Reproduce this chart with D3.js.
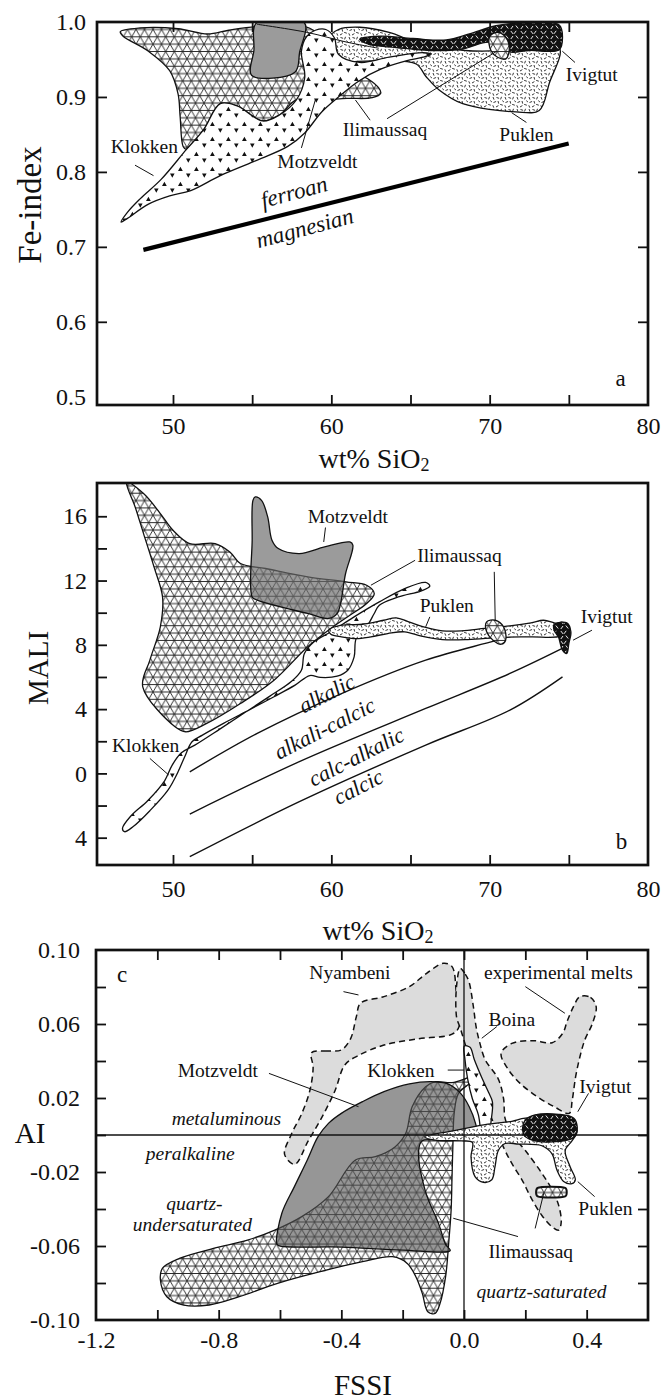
<!DOCTYPE html>
<html><head><meta charset="utf-8">
<script src="https://cdn.jsdelivr.net/npm/d3@7/dist/d3.min.js"></script>
<style>
body{margin:0;background:#fff;}
svg text{font-family:"Liberation Serif","DejaVu Serif","Times New Roman",serif;fill:#111;}
</style></head><body>
<svg id="chart" width="662" height="1400"></svg>
<script>
// ================= DATA =================
const sio2Ticks = [50, 60, 70, 80];
const sio2TickLabels = ["50", "60", "70", "80"];
const sio2MinorTicks = [50, 55, 60, 65, 70, 75];
const feTicks = [0.5, 0.6, 0.7, 0.8, 0.9, 1.0];
const feTickLabels = ["0.5", "0.6", "0.7", "0.8", "0.9", "1.0"];
const feMinorTicks = [0.6, 0.7, 0.8, 0.9];
const maliTicks = [-4, 0, 4, 8, 12, 16];
const maliTickLabels = ["4", "0", "4", "8", "12", "16"];
const maliMinorTicks = [-4, -2, 0, 2, 4, 6, 8, 10, 12, 14, 16];
const fssiTicks = [-1.2, -0.8, -0.4, 0.0, 0.4];
const fssiTickLabels = ["-1.2", "-0.8", "-0.4", "0.0", "0.4"];
const fssiMinorTicks = [-1.0, -0.8, -0.6, -0.4, -0.2, 0.0, 0.2, 0.4];
const aiTicks = [0.10, 0.06, 0.02, -0.02, -0.06, -0.10];
const aiTickLabels = ["0.10", "0.06", "0.02", "-0.02", "-0.06", "-0.10"];
const aiMinorTicks = [-0.08, -0.06, -0.04, -0.02, 0, 0.02, 0.04, 0.06, 0.08];

// ---- panel a: Fe-index vs SiO2 ----
const ilimaussaqA = [[46.67,0.987],[47.92,0.992],[50.32,0.991],[52.19,0.984],[53.52,0.989],[55.33,0.994],[58.32,0.994],[59.39,0.979],[59.92,0.948],[60.99,0.937],[62.32,0.924],[62.99,0.912],[63.12,0.905],[62.59,0.899],[60.99,0.898],[59.39,0.896],[57.79,0.896],[56.72,0.876],[55.65,0.868],[54.05,0.888],[52.99,0.891],[51.92,0.856],[50.85,0.83],[50.64,0.834],[50.45,0.874],[50.32,0.904],[49.79,0.935],[48.45,0.961],[46.85,0.981]];
const motzveldtA = [[55.28,0.999],[58.3,0.999],[58.0,0.96],[57.7,0.933],[54.96,0.929],[55.11,0.962]];
const motzveldtEdgeA = [[55.3,0.997],[58.5,0.986],[61.0,0.973],[63.0,0.965]];
const puklenA = [[59.39,0.948],[59.65,0.975],[60.45,0.99],[61.79,0.993],[63.65,0.986],[65.5,0.972],[68.45,0.962],[71.12,0.962],[74.39,0.966],[73.76,0.918],[73.13,0.882],[71.66,0.88],[68.3,0.891],[66.83,0.909],[65.99,0.927],[65.36,0.944],[63.12,0.948],[60.99,0.946],[59.92,0.939]];
const klokkenA = [[46.72,0.733],[47.12,0.738],[48.45,0.757],[49.79,0.768],[51.12,0.775],[52.99,0.795],[55.12,0.814],[57.25,0.834],[58.32,0.852],[59.39,0.88],[60.45,0.9],[61.79,0.922],[63.12,0.937],[64.72,0.948],[65.79,0.953],[66.3,0.957],[65.79,0.959],[63.65,0.953],[61.79,0.946],[60.45,0.957],[60.19,0.979],[59.65,0.99],[58.99,0.989],[58.45,0.981],[58.11,0.961],[58.32,0.926],[57.79,0.896],[56.72,0.876],[55.65,0.868],[54.05,0.888],[52.99,0.891],[51.92,0.856],[50.85,0.83],[49.25,0.79],[47.92,0.764],[47.12,0.746]];
const ivigtutA = [[61.79,0.977],[63.05,0.981],[65.15,0.978],[67.25,0.976],[68.72,0.984],[70.4,0.995],[72.5,0.999],[74.39,0.996],[74.6,0.98],[74.39,0.963],[72.5,0.962],[71.24,0.96],[70.0,0.973],[68.3,0.964],[66.2,0.962],[64.1,0.966],[62.4,0.97]];
const ilimBlobA = [[69.98,0.9795],[70.4,0.986],[70.92,0.982],[71.24,0.966],[71.03,0.951],[70.5,0.953],[70.08,0.962]];
const ferroanBoundaryA = [[48.13,0.696],[74.99,0.838]];
const fieldLabelsA = [
  {text:"Klokken", x:48.19, y:0.834}, {text:"Motzveldt", x:59.12, y:0.814},
  {text:"Ilimaussaq", x:63.39, y:0.856}, {text:"Puklen", x:72.32, y:0.85},
  {text:"Ivigtut", x:76.45, y:0.93}];
const regionLabelsA = [{text:"ferroan", x:57.65, y:0.773}, {text:"magnesian", x:58.32, y:0.725}];
const leadersA = [
  [[47.6,0.809],[48.77,0.795]], [[58.11,0.832],[58.99,0.896]],
  [[62.45,0.869],[61.52,0.896]], [[63.52,0.871],[70.45,0.961]],
  [[72.32,0.866],[71.39,0.879]], [[75.39,0.946],[74.59,0.961]]];
const panelLetterA = {text:"a", x:78.27, y:0.525};

// ---- panel b: MALI vs SiO2 ----
const ilimaussaqB = [[47.07,18.13],[48.14,17.41],[49.2,16.17],[50.0,15.13],[51.06,14.3],[52.66,14.3],[53.59,13.78],[54.26,13.06],[55.85,12.75],[58.51,12.23],[60.9,11.92],[62.23,11.71],[62.71,11.19],[62.23,10.57],[61.17,9.84],[60.11,9.12],[58.51,7.88],[56.38,5.8],[54.26,4.35],[52.13,3.11],[50.8,2.59],[50.13,2.9],[48.09,5.39],[48.54,7.05],[49.2,9.12],[49.34,10.98],[48.8,12.85],[48.14,14.92],[47.61,16.58]];
const motzveldtB = [[55.19,17.2],[55.59,16.99],[55.98,15.96],[56.25,14.51],[56.65,13.99],[57.98,13.68],[59.57,14.09],[61.17,14.4],[61.36,14.2],[60.9,12.44],[60.37,9.95],[59.84,9.64],[58.51,9.95],[55.32,10.78],[55.0,10.98],[55.0,14.51],[55.05,16.99]];
const klokkenB = [[46.81,-3.42],[47.34,-2.65],[48.4,-1.7],[49.47,-0.46],[49.95,0.52],[50.53,1.28],[51.38,1.76],[52.93,2.74],[54.52,3.77],[56.12,4.81],[57.45,5.7],[58.11,6.42],[58.3,7.46],[58.91,8.19],[59.97,8.81],[61.44,9.74],[63.03,10.67],[64.63,11.5],[65.96,11.88],[66.22,11.65],[65.69,11.36],[64.23,10.98],[63.03,10.47],[62.71,9.95],[62.23,9.12],[61.57,8.39],[61.44,7.25],[61.04,6.42],[60.37,6.05],[59.31,5.97],[58.64,6.09],[57.71,5.49],[56.38,4.77],[54.79,3.94],[53.19,3.11],[51.86,2.38],[51.2,1.97],[50.74,1.04],[50.32,0.1],[49.68,-1.04],[48.54,-2.32],[47.47,-3.32],[46.94,-3.63]];
const puklenB = [[59.84,8.91],[60.64,9.22],[61.97,9.28],[63.3,9.53],[64.1,9.68],[64.89,9.43],[65.96,9.08],[67.02,8.87],[68.22,8.87],[69.68,9.02],[71.28,9.18],[72.61,9.37],[73.4,9.53],[74.07,9.37],[74.6,9.22],[74.87,8.91],[74.47,8.54],[72.61,8.5],[70.74,8.46],[68.62,8.33],[67.02,8.33],[65.69,8.54],[64.63,8.81],[63.56,8.7],[62.5,8.5],[61.57,8.39],[60.64,8.5],[59.97,8.66]];
const ilimBlobB = [[69.81,9.43],[70.35,9.53],[70.88,9.12],[71.01,8.29],[70.74,8.04],[70.21,8.29],[69.81,8.81]];
const ivigtutB = [[74.07,9.27],[74.87,9.37],[75.13,8.81],[75.0,8.08],[74.87,7.46],[74.6,7.67],[74.34,8.5],[74.07,8.91]];
const maliBoundariesB = [
  [[51.06,0.1],[55.32,2.49],[60.64,4.97],[65.96,7.05],[70.48,8.29],[74.6,9.43]],
  [[51.06,-2.53],[57.98,0.73],[65.96,4.04],[71.28,6.22],[75.0,7.98]],
  [[51.06,-5.18],[57.98,-1.76],[65.96,1.76],[71.28,3.94],[74.6,6.01]]];
const fieldLabelsB = [
  {text:"Motzveldt", x:61.04, y:15.96}, {text:"Ilimaussaq", x:68.09, y:13.58},
  {text:"Puklen", x:67.29, y:10.42}, {text:"Ivigtut", x:77.39, y:9.74},
  {text:"Klokken", x:48.27, y:1.76}];
const regionLabelsB = [
  {text:"alkalic", x:59.71, y:4.97}, {text:"alkali-calcic", x:59.57, y:2.8},
  {text:"calc-alkalic", x:61.57, y:1.04}, {text:"calcic", x:61.7, y:-0.83}];
const leadersB = [
  [[59.63,15.3],[59.52,14.4]], [[65.29,13.26],[62.5,11.71]],
  [[66.22,9.74],[65.96,9.12]], [[70.29,12.54],[70.35,9.53]],
  [[76.46,8.91],[75.27,8.29]], [[48.54,0.93],[49.73,-0.1]]];
const panelLetterB = {text:"b", x:78.32, y:-4.25};

// ---- panel c: AI vs FSSI ----
const nyambeniC = [[-0.497,0.0445],[-0.453,0.0454],[-0.40,0.046],[-0.37,0.052],[-0.351,0.064],[-0.3375,0.0712],[-0.261,0.0748],[-0.178,0.0802],[-0.122,0.0874],[-0.067,0.0928],[-0.039,0.091],[-0.025,0.0766],[-0.016,0.0586],[-0.039,0.0545],[-0.15,0.052],[-0.261,0.0486],[-0.344,0.043],[-0.388,0.038],[-0.421,0.0238],[-0.464,0.0094],[-0.508,-0.0032],[-0.552,-0.0159],[-0.585,-0.0105],[-0.563,0.0004],[-0.53,0.0112],[-0.503,0.0238],[-0.492,0.0364]];
const boinaC = [[-0.012,0.09],[0.004,0.087],[0.016,0.083],[0.03,0.07],[0.04,0.058],[0.052,0.0495],[0.069,0.0407],[0.112,0.0302],[0.129,0.0196],[0.134,0.009],[0.156,0.0004],[0.2,-0.0084],[0.254,-0.0207],[0.287,-0.0295],[0.309,-0.0382],[0.317,-0.047],[0.309,-0.0514],[0.287,-0.0496],[0.254,-0.0435],[0.221,-0.0347],[0.189,-0.0242],[0.156,-0.0154],[0.129,-0.0067],[0.09,0.0091],[0.058,0.0232],[0.027,0.0363],[0.003,0.0495],[-0.013,0.0582],[-0.024,0.0635],[-0.024,0.081]];
const experimentalMeltsC = [[0.378,0.0748],[0.4125,0.0744],[0.431,0.0694],[0.419,0.0604],[0.394,0.0514],[0.378,0.0423],[0.364,0.0315],[0.353,0.0189],[0.343,0.0117],[0.294,0.0153],[0.239,0.0207],[0.183,0.0279],[0.142,0.036],[0.121,0.0441],[0.156,0.0495],[0.225,0.051],[0.2875,0.0499],[0.322,0.055],[0.336,0.0613],[0.357,0.0694]];
const ilimaussaqC = [[-0.99,-0.0784],[-0.983,-0.072],[-0.928,-0.0667],[-0.817,-0.0613],[-0.706,-0.0568],[-0.617,-0.0514],[-0.529,-0.0441],[-0.442,-0.0333],[-0.354,-0.0135],[-0.289,-0.0117],[-0.224,-0.0063],[-0.19,0.0009],[-0.169,0.0153],[-0.125,0.0261],[-0.093,0.0288],[-0.039,0.0283],[0.031,0.0315],[0.024,0.0288],[-0.018,0.0225],[-0.032,0.0117],[-0.036,-0.0045],[-0.039,-0.0225],[-0.042,-0.0405],[-0.05,-0.0586],[-0.06,-0.0766],[-0.078,-0.091],[-0.094,-0.0964],[-0.118,-0.0955],[-0.136,-0.0856],[-0.157,-0.0766],[-0.185,-0.0694],[-0.233,-0.0658],[-0.331,-0.0685],[-0.469,-0.0739],[-0.608,-0.0802],[-0.733,-0.0874],[-0.831,-0.0919],[-0.914,-0.0919],[-0.969,-0.0874]];
const motzveldtC = [[-0.611,-0.0586],[-0.594,-0.0423],[-0.553,-0.0279],[-0.511,-0.0135],[-0.476,-0.0009],[-0.442,0.0063],[-0.4,0.0117],[-0.331,0.018],[-0.261,0.0234],[-0.178,0.0276],[-0.108,0.0288],[-0.053,0.0276],[-0.011,0.0225],[0.017,0.0153],[0.0375,0.0063],[0.042,0.0009],[0.017,-0.002],[-0.06,-0.003],[-0.137,-0.0032],[-0.148,-0.0086],[-0.126,-0.0303],[-0.082,-0.0483],[-0.06,-0.0591],[-0.045,-0.0625],[-0.2,-0.0622],[-0.4,-0.0606],[-0.605,-0.0598]];
const klokkenC = [[0.001,0.0481],[0.0196,0.0474],[0.0338,0.0407],[0.0578,0.0311],[0.0796,0.0232],[0.0927,0.0179],[0.0883,0.0074],[0.0774,-0.004],[0.0632,-0.0058],[0.0556,0.0004],[0.0469,0.0109],[0.0273,0.0196],[0.012,0.0302],[0.0033,0.0407]];
const puklenC = [[-0.128,-0.001],[-0.04,0.0021],[0.069,0.0056],[0.156,0.0074],[0.2,0.0091],[0.352,0.0082],[0.369,0.0021],[0.352,-0.0032],[0.33,-0.0084],[0.346,-0.0172],[0.363,-0.0242],[0.352,-0.0263],[0.325,-0.0251],[0.303,-0.0189],[0.287,-0.0102],[0.254,-0.0058],[0.178,-0.0049],[0.134,-0.0046],[0.112,-0.0084],[0.101,-0.0172],[0.0905,-0.0242],[0.0632,-0.0256],[0.036,-0.0225],[0.0229,-0.0119],[0.0273,-0.004],[-0.0076,-0.0032],[-0.095,-0.0028]];
const ivigtutC = [[0.2,0.0082],[0.232,0.0109],[0.309,0.0112],[0.358,0.0091],[0.369,0.0039],[0.358,-0.0014],[0.309,-0.0035],[0.232,-0.0032],[0.198,-0.0005],[0.191,0.0039]];
const ilimCapsuleC = [[0.24,-0.0286],[0.33,-0.0286],[0.334,-0.0295],[0.335,-0.031],[0.334,-0.0323],[0.33,-0.0332],[0.24,-0.0332],[0.236,-0.0323],[0.235,-0.031],[0.236,-0.0296]];
const fieldLabelsC = [
  {text:"Nyambeni", x:-0.372, y:0.0879}, {text:"experimental melts", x:0.308, y:0.0879},
  {text:"Boina", x:0.156, y:0.0622}, {text:"Klokken", x:-0.206, y:0.0351},
  {text:"Motzveldt", x:-0.803, y:0.0351}, {text:"Ivigtut", x:0.461, y:0.0261},
  {text:"Puklen", x:0.461, y:-0.0396}, {text:"Ilimaussaq", x:0.218, y:-0.063}];
const regionLabelsC = [
  {text:"metaluminous", x:-0.775, y:0.009}, {text:"peralkaline", x:-0.893, y:-0.0099},
  {text:"quartz-", x:-0.879, y:-0.0369}, {text:"undersaturated", x:-0.886, y:-0.0486},
  {text:"quartz-saturated", x:0.253, y:-0.0847}];
const leadersC = [
  [[-0.393,0.0775],[-0.344,0.0757]], [[0.2,0.0802],[0.329,0.0658]],
  [[0.107,0.0586],[0.058,0.0523]], [[-0.053,0.0351],[0.0,0.0351]],
  [[-0.636,0.0333],[-0.344,0.0153]], [[0.406,0.0225],[0.371,0.0126]],
  [[0.371,-0.0252],[0.426,-0.0333]], [[0.232,-0.0505],[0.26,-0.0315]],
  [[0.176,-0.0549],[-0.035,-0.045]]];
const panelLetterC = {text:"c", x:-1.115, y:0.0865};

// ================= RENDER =================
const SERIF = '"Liberation Serif", "DejaVu Serif", "Times New Roman", serif';
const svg = d3.select("#chart");
const defs = svg.append("defs");

(function(){ // triangular mesh (Ilimaussaq)
  const s = 8.5, h = s * Math.sqrt(3);
  const p = defs.append("pattern").attr("id","mesh").attr("patternUnits","userSpaceOnUse").attr("width",s).attr("height",h);
  p.append("rect").attr("width",s).attr("height",h).attr("fill","#fff");
  p.append("path").attr("d",`M-1,0H${s+1}M-1,${h/2}H${s+1}M-1,${h}H${s+1}M0,0L${s},${h}M${s},0L0,${h}`)
    .attr("stroke","#1a1a1a").attr("stroke-width",0.9).attr("fill","none");
})();
(function(){ // triangles (Klokken)
  const p = defs.append("pattern").attr("id","tri").attr("patternUnits","userSpaceOnUse").attr("width",16).attr("height",15);
  p.append("rect").attr("width",16).attr("height",15).attr("fill","#fff");
  p.append("path").attr("d","M2,6 l2.4,-4.2 l2.4,4.2z M10,8.5 l4.6,0 l-2.3,4.2z").attr("fill","#111");
})();
(function(){ // dashes (Puklen)
  const p = defs.append("pattern").attr("id","dash").attr("patternUnits","userSpaceOnUse").attr("width",12).attr("height",12);
  p.append("rect").attr("width",12).attr("height",12).attr("fill","#fff");
  p.append("path").attr("d","M1,1l1,2.6 M4.5,1.5l2.6,0.8 M9.5,0.8l-0.9,2.6 M10.5,4.5l1.4,1.8 M1.5,6.5l2.6,-1 M6,5l0.7,2.6 M8.2,8.4l2.6,0.8 M0.8,9.3l1,2.4 M4,11l2.4,-1.4")
    .attr("stroke","#111").attr("stroke-width",0.85).attr("fill","none");
})();
(function(){ // inverse dashes (Ivigtut)
  const p = defs.append("pattern").attr("id","ivig").attr("patternUnits","userSpaceOnUse").attr("width",10).attr("height",10);
  p.append("rect").attr("width",10).attr("height",10).attr("fill","#111");
  p.append("path").attr("d","M0.8,1 l2.4,3 M6.2,0.8 l-2.2,3 M5.8,5.5 l2.4,3 M3,6 l-2.2,3")
    .attr("stroke","#fff").attr("stroke-width",0.9).attr("fill","none");
})();

const closedLine = (x,y) => d3.line().x(d=>x(d[0])).y(d=>y(d[1])).curve(d3.curveCatmullRomClosed.alpha(0.5));
const openLine = (x,y) => d3.line().x(d=>x(d[0])).y(d=>y(d[1])).curve(d3.curveCatmullRom.alpha(0.5));
const straight = (x,y) => d3.line().x(d=>x(d[0])).y(d=>y(d[1]));

function field(g, x, y, pts, fill, opts={}) {
  return g.append("path").datum(pts).attr("d", closedLine(x,y))
    .attr("fill", fill).attr("fill-opacity", opts.opacity ?? 1)
    .attr("stroke", opts.stroke ?? "#111").attr("stroke-width", opts.sw ?? 1.3)
    .attr("stroke-dasharray", opts.dash ?? null).attr("stroke-linejoin","round");
}
function leaders(g, x, y, list) {
  g.selectAll(null).data(list).join("path").attr("d", straight(x,y))
    .attr("stroke","#111").attr("stroke-width",1).attr("fill","none");
}
function labels(g, x, y, list, size, italic, angle) {
  g.selectAll(null).data(list).join("text")
    .attr("transform", d => `translate(${x(d.x)},${y(d.y)}) rotate(${angle||0})`)
    .attr("text-anchor","middle").attr("dominant-baseline","central")
    .attr("font-family", SERIF)
    .style("font-size", size + "px").style("font-style", italic ? "italic" : "normal")
    .text(d => d.text);
}
function axes(g, x, y, cfg) {
  const [x0,x1] = x.range(), [y0,y1] = y.range();
  const styleTicks = sel => {
    sel.attr("font-family", SERIF);
    sel.select(".domain").remove();
    sel.selectAll("line").attr("stroke","#111").attr("stroke-width",1.8);
    sel.selectAll("text").attr("font-family", SERIF).style("font-family", SERIF).style("font-size","24px").attr("fill","#111");
  };
  if (cfg.bottomMinor) g.append("g").attr("transform",`translate(0,${y0})`).call(d3.axisBottom(x).tickValues(cfg.bottomMinor).tickSizeInner(-10).tickSizeOuter(0).tickFormat("")).call(styleTicks);
  if (cfg.topMinor) g.append("g").attr("transform",`translate(0,${y1})`).call(d3.axisTop(x).tickValues(cfg.topMinor).tickSizeInner(-10).tickSizeOuter(0).tickFormat("")).call(styleTicks);
  if (cfg.leftMinor) g.append("g").attr("transform",`translate(${x0},0)`).call(d3.axisLeft(y).tickValues(cfg.leftMinor).tickSizeInner(-10).tickSizeOuter(0).tickFormat("")).call(styleTicks);
  if (cfg.rightMinor) g.append("g").attr("transform",`translate(${x1},0)`).call(d3.axisRight(y).tickValues(cfg.rightMinor).tickSizeInner(-10).tickSizeOuter(0).tickFormat("")).call(styleTicks);
  g.append("g").attr("transform",`translate(0,${y0})`).call(d3.axisBottom(x).tickValues(cfg.xTicks).tickSize(0).tickPadding(cfg.xPad).tickFormat((d,i)=>cfg.xLabels[i])).call(styleTicks);
  g.append("g").attr("transform",`translate(${x0},0)`).call(d3.axisLeft(y).tickValues(cfg.yTicks).tickSize(0).tickPadding(cfg.yPad).tickFormat((d,i)=>cfg.yLabels[i])).call(styleTicks);
}
function frame(g, x, y) {
  const [x0,x1] = x.range(), [y0,y1] = y.range();
  g.append("rect").attr("x",x0).attr("y",y1).attr("width",x1-x0).attr("height",y0-y1)
    .attr("fill","none").attr("stroke","#111").attr("stroke-width",2.7);
}
function clip(id, x, y) {
  const [x0,x1] = x.range(), [y0,y1] = y.range();
  defs.append("clipPath").attr("id",id).append("rect").attr("x",x0).attr("y",y1).attr("width",x1-x0).attr("height",y0-y1);
}
function title(g, txt, cx, cy, rot, size) {
  return g.append("text").attr("transform",`translate(${cx},${cy}) rotate(${rot||0})`).attr("text-anchor","middle")
    .attr("dominant-baseline","central").attr("font-family", SERIF).style("font-size",size + "px").text(txt);
}
function sio2Title(g, cx, cy) {
  const t = g.append("text").attr("x",cx).attr("y",cy).attr("text-anchor","middle").attr("dominant-baseline","central")
    .attr("font-family", SERIF).style("font-size","28px");
  t.append("tspan").text("wt% SiO");
  t.append("tspan").attr("dy",7).style("font-size","18px").text("2");
}

// ---------- Panel a ----------
const xA = d3.scaleLinear().domain([45.2, 80]).range([97, 648]);
const yA = d3.scaleLinear().domain([0.489, 1.0]).range([405, 22]);
clip("clipA", xA, yA);
const gA = svg.append("g");
const fA = gA.append("g").attr("clip-path","url(#clipA)");
field(fA, xA, yA, ilimaussaqA, "url(#mesh)");
field(fA, xA, yA, motzveldtA, "#9b9b9b");
field(fA, xA, yA, puklenA, "url(#dash)");
field(fA, xA, yA, klokkenA, "url(#tri)");
field(fA, xA, yA, ivigtutA, "url(#ivig)");
field(fA, xA, yA, ilimBlobA, "url(#mesh)");
fA.append("path").datum(motzveldtEdgeA).attr("d", openLine(xA,yA)).attr("stroke","#111").attr("stroke-width",1).attr("fill","none");
gA.append("path").datum(ferroanBoundaryA).attr("d", straight(xA,yA)).attr("stroke","#000").attr("stroke-width",4.2).attr("fill","none");
leaders(gA, xA, yA, leadersA);
labels(gA, xA, yA, fieldLabelsA, 19.5, false, 0);
labels(gA, xA, yA, regionLabelsA, 23, true, -15);
labels(gA, xA, yA, [panelLetterA], 23, false, 0);
axes(gA, xA, yA, {bottomMinor: sio2MinorTicks, topMinor: sio2MinorTicks, leftMinor: feMinorTicks, rightMinor: feMinorTicks,
  xTicks: sio2Ticks, xLabels: sio2TickLabels, xPad: 12, yTicks: feTicks, yLabels: feTickLabels, yPad: 11});
frame(gA, xA, yA);
title(gA, "Fe-index", 30, 205, -90, 33);
sio2Title(gA, 374, 458);

// ---------- Panel b ----------
const xB = d3.scaleLinear().domain([45.2, 80]).range([97, 648]);
const yB = d3.scaleLinear().domain([-5.7, 18.07]).range([865, 483]);
clip("clipB", xB, yB);
const gB = svg.append("g");
const fB = gB.append("g").attr("clip-path","url(#clipB)");
field(fB, xB, yB, ilimaussaqB, "url(#mesh)");
field(fB, xB, yB, motzveldtB, "#6c6c6c", {opacity: 0.68});
fB.selectAll(null).data(maliBoundariesB).join("path").attr("d", openLine(xB,yB)).attr("stroke","#111").attr("stroke-width",1.4).attr("fill","none");
field(fB, xB, yB, klokkenB, "url(#tri)");
field(fB, xB, yB, puklenB, "url(#dash)");
field(fB, xB, yB, ilimBlobB, "url(#mesh)");
field(fB, xB, yB, ivigtutB, "url(#ivig)");
leaders(gB, xB, yB, leadersB);
labels(gB, xB, yB, fieldLabelsB, 19.5, false, 0);
labels(gB, xB, yB, regionLabelsB, 22, true, -27);
labels(gB, xB, yB, [panelLetterB], 23, false, 0);
axes(gB, xB, yB, {bottomMinor: sio2MinorTicks, leftMinor: maliMinorTicks,
  xTicks: sio2Ticks, xLabels: sio2TickLabels, xPad: 15, yTicks: maliTicks, yLabels: maliTickLabels, yPad: 10});
frame(gB, xB, yB);
title(gB, "MALI", 38, 668, -90, 29);
sio2Title(gB, 378, 930);

// ---------- Panel c ----------
const xC = d3.scaleLinear().domain([-1.2, 0.6]).range([96, 648]);
const yC = d3.scaleLinear().domain([-0.10, 0.10]).range([1320, 950]);
clip("clipC", xC, yC);
const gC = svg.append("g");
const fC = gC.append("g").attr("clip-path","url(#clipC)");
field(fC, xC, yC, nyambeniC, "#dcdcdc", {dash:"6,4", sw:1.5});
field(fC, xC, yC, boinaC, "#dcdcdc", {dash:"6,4", sw:1.5});
field(fC, xC, yC, experimentalMeltsC, "#dcdcdc", {dash:"6,4", sw:1.5});
field(fC, xC, yC, ilimaussaqC, "url(#mesh)");
field(fC, xC, yC, motzveldtC, "#555", {opacity: 0.62});
field(fC, xC, yC, klokkenC, "url(#tri)");
field(fC, xC, yC, puklenC, "url(#dash)");
field(fC, xC, yC, ivigtutC, "url(#ivig)");
field(fC, xC, yC, ilimCapsuleC, "url(#mesh)", {sw: 2});
fC.append("path").datum([[0, -0.10], [0, 0.10]]).attr("d", straight(xC,yC)).attr("stroke","#111").attr("stroke-width",1.3);
fC.append("path").datum([[-1.2, 0], [0.6, 0]]).attr("d", straight(xC,yC)).attr("stroke","#111").attr("stroke-width",1.3);
leaders(gC, xC, yC, leadersC);
labels(gC, xC, yC, fieldLabelsC, 19.5, false, 0);
labels(gC, xC, yC, regionLabelsC, 19.5, true, 0);
labels(gC, xC, yC, [panelLetterC], 23, false, 0);
axes(gC, xC, yC, {bottomMinor: fssiMinorTicks, topMinor: fssiMinorTicks, leftMinor: aiMinorTicks, rightMinor: aiMinorTicks,
  xTicks: fssiTicks, xLabels: fssiTickLabels, xPad: 11, yTicks: aiTicks, yLabels: aiTickLabels, yPad: 16});
frame(gC, xC, yC);
title(gC, "AI", 30, 1133, 0, 29);
title(gC, "FSSI", 363, 1385, 0, 29);
</script>
</body></html>
